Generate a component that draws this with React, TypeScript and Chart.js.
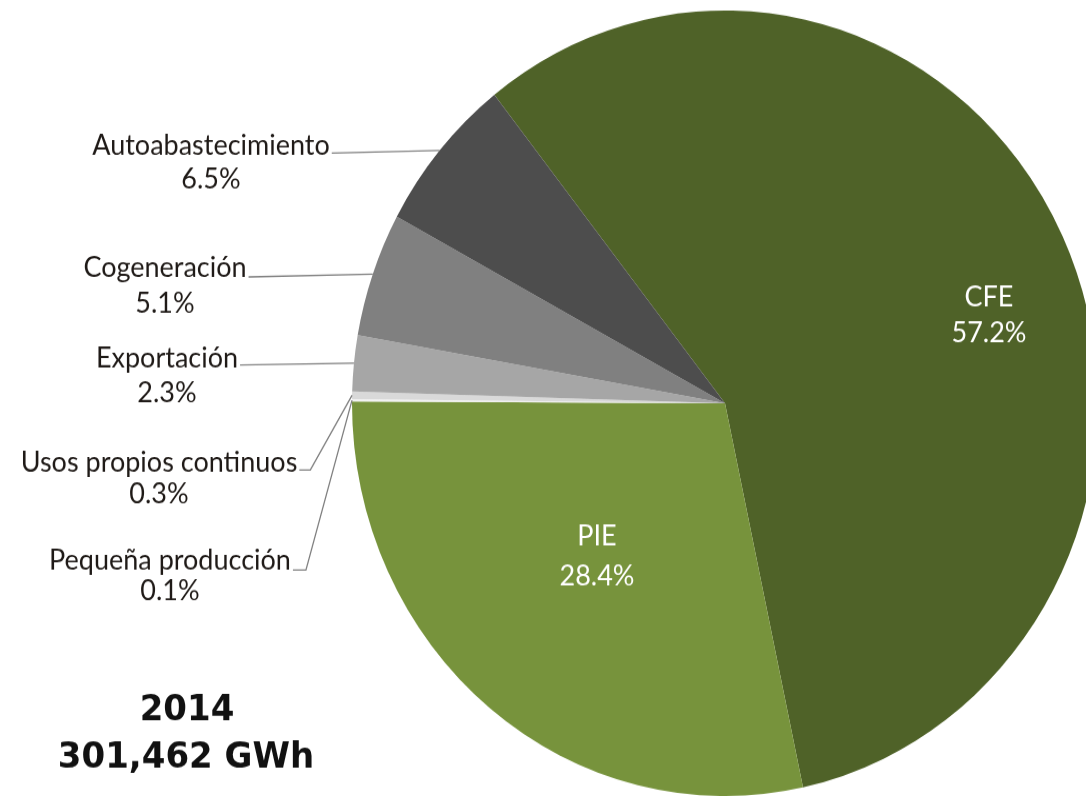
import React, { useEffect, useRef } from "react";
import { Chart, registerables } from "chart.js";

Chart.register(...registerables);

const categories = [
  "CFE",
  "PIE",
  "Pequeña producción",
  "Usos propios continuos",
  "Exportación",
  "Cogeneración",
  "Autoabastecimiento",
];
const shares = [57.2, 28.4, 0.1, 0.3, 2.3, 5.1, 6.5];
const shareLabels = ["57.2%", "28.4%", "0.1%", "0.3%", "2.3%", "5.1%", "6.5%"];
const sliceColors = ["#4F6228", "#77933C", "#F2F2F2", "#D9D9D9", "#A6A6A6", "#808080", "#4D4D4D"];
const titleLines = ["2014", "301,462 GWh"];

// label layout (canvas coordinates): centre x, baseline of name, baseline of value
const labelLayout: Record<string, any> = {
  CFE: { x: 989, y1: 291, y2: 324.5, inside: true },
  PIE: { x: 597, y1: 517.6, y2: 555.6, inside: true },
  "Autoabastecimiento": { x: 211, y1: 147.2, y2: 178.6, lineY: 145.3 },
  "Cogeneración": { x: 165, y1: 263.1, y2: 297.3, lineY: 263 },
  "Exportación": { x: 167, y1: 348.6, y2: 381.8, lineY: 346.7 },
  "Usos propios continuos": { x: 159, y1: 448.3, y2: 477.7, lineY: 446.4, elbow: 11 },
  "Pequeña producción": { x: 170, y1: 541.4, y2: 569.8, lineY: 541.4, elbow: 13 },
};

const LABEL_FONT = "27px Lato, 'Open Sans', sans-serif";
const TITLE_FONT = "bold 34px 'DejaVu Sans', sans-serif";

const labelPlugin = {
  id: "pieLabels",
  afterDraw(chart: any) {
    const ctx = chart.ctx;
    const meta = chart.getDatasetMeta(0);
    ctx.save();
    meta.data.forEach((arc: any, i: number) => {
      const name = categories[i];
      const lay = labelLayout[name];
      if (!lay) return;
      const p = arc.getProps(["x", "y", "startAngle", "endAngle", "outerRadius"], true);
      ctx.font = LABEL_FONT;
      ctx.textAlign = "center";
      ctx.textBaseline = "alphabetic";
      if (lay.inside) {
        ctx.fillStyle = "#FFFFFF";
        ctx.fillText(name, lay.x, lay.y1);
        ctx.fillText(shareLabels[i], lay.x, lay.y2);
        return;
      }
      ctx.fillStyle = "#1F1A17";
      ctx.fillText(name, lay.x, lay.y1);
      ctx.fillText(shareLabels[i], lay.x, lay.y2);
      const w = ctx.measureText(name).width;
      const startX = lay.x + w / 2 + 2;
      const mid = (p.startAngle + p.endAngle) / 2;
      const ex = p.x + Math.cos(mid) * p.outerRadius;
      const ey = p.y + Math.sin(mid) * p.outerRadius;
      ctx.strokeStyle = "#7F7F7F";
      ctx.lineWidth = 1.3;
      ctx.beginPath();
      ctx.moveTo(startX, lay.lineY);
      if (lay.elbow) {
        ctx.lineTo(startX + lay.elbow, lay.lineY);
      }
      ctx.lineTo(ex, ey);
      ctx.stroke();
    });
    // title
    ctx.font = TITLE_FONT;
    ctx.fillStyle = "#111111";
    ctx.textAlign = "center";
    ctx.fillText(titleLines[0], 187, 683.8);
    ctx.fillText(titleLines[1], 186, 729.4);
    ctx.restore();
  },
};

const CANVAS_W = 1100;
const CANVAS_H = 756;
const STRETCH = 796 / 756;

export default function App() {
  const ref = useRef<HTMLCanvasElement | null>(null);
  useEffect(() => {
    document.body.style.margin = "0";
    const canvas = ref.current!;
    const chart = new Chart(canvas, {
      type: "pie",
      data: {
        labels: categories,
        datasets: [
          {
            data: shares,
            backgroundColor: sliceColors,
            borderWidth: 0,
          },
        ],
      },
      options: {
        responsive: false,
        animation: false,
        rotation: -38.2,
        layout: { padding: { left: 352, right: 2, top: 10, bottom: 0 } },
        plugins: {
          legend: { display: false },
          tooltip: { enabled: false },
          title: { display: false },
        },
      },
      plugins: [labelPlugin],
    });
    return () => chart.destroy();
  }, []);
  return (
    <div
      style={{
        position: "fixed",
        left: 0,
        top: 0,
        width: 1086,
        height: 796,
        overflow: "hidden",
        background: "#FFFFFF",
      }}
    >
      <canvas
        ref={ref}
        width={CANVAS_W}
        height={CANVAS_H}
        style={{
          position: "absolute",
          left: 0,
          top: 0,
          width: CANVAS_W,
          height: CANVAS_H,
          transform: `scaleY(${STRETCH})`,
          transformOrigin: "0 0",
        }}
      />
    </div>
  );
}
